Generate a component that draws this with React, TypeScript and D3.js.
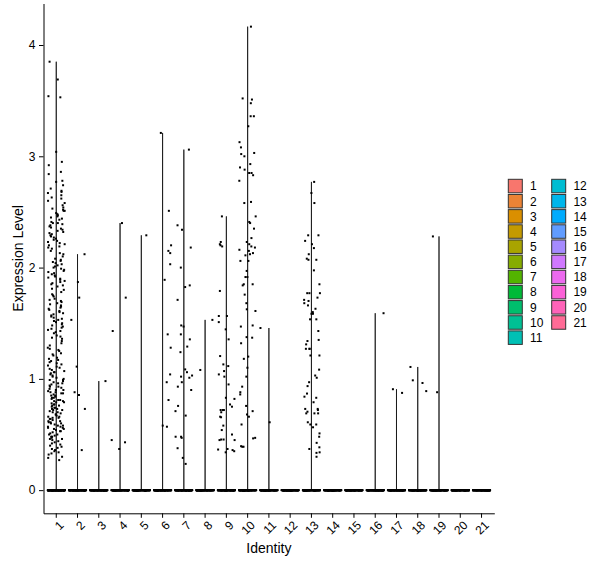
import React, { useEffect, useRef } from 'react'
import * as d3 from 'd3'

const clusters = [
  '1', '2', '3', '4', '5', '6', '7', '8', '9', '10', '11',
  '12', '13', '14', '15', '16', '17', '18', '19', '20', '21',
]
const yTicks = [0, 1, 2, 3, 4]

// cells with zero expression (they form the thick bar at 0)
const zeroCounts = [
  160, 140, 140, 140, 140, 140, 140, 140, 140, 140, 140,
  140, 140, 140, 140, 140, 140, 140, 140, 140, 140,
]

// non-zero expression values per identity
const cluster1 = [
  3.85, 3.69, 3.53, 3.54, 3.04, 2.95, 2.92, 2.86, 2.84, 2.77, 2.78, 2.74, 2.71, 2.69, 2.67,
  2.68, 2.65, 2.62, 2.6, 2.56, 2.54, 2.51, 2.51, 2.52, 2.48, 2.49, 2.47, 2.44, 2.45,
  2.4, 2.41, 2.39, 2.4, 2.37, 2.38, 2.36, 2.35, 2.32, 2.33, 2.29, 2.3, 2.28, 2.26, 2.25, 2.27,
  2.22, 2.21, 2.23, 2.18, 2.17, 2.19, 2.12, 2.13, 2.06, 2.07, 2.05, 2.04, 2.03,
  2.0, 1.99, 2.01, 1.95, 1.96, 1.94, 1.9, 1.91, 1.89, 1.88, 1.85, 1.86, 1.81, 1.8,
  1.76, 1.74, 1.71, 1.72, 1.7, 1.65, 1.66, 1.64, 1.62, 1.61, 1.63, 1.56, 1.57, 1.55,
  1.51, 1.52, 1.5, 1.46, 1.47, 1.45, 1.44, 1.41, 1.42, 1.36, 1.37, 1.3, 1.27, 1.28, 1.26,
  1.22, 1.23, 1.21, 1.16, 1.17, 1.12, 1.13, 1.11, 1.09, 1.08, 1.1, 1.06, 1.03, 1.04, 1.02,
  1.0, 0.99, 0.97, 0.98, 0.96, 0.92, 0.93, 0.91, 0.89, 0.9, 0.88, 0.85, 0.86, 0.84,
  0.82, 0.83, 0.81, 0.8, 0.77, 0.78, 0.76, 0.74, 0.75, 0.73, 0.71, 0.72, 0.7, 0.69,
  0.66, 0.67, 0.65, 0.64, 0.63, 0.62, 0.61, 0.59, 0.6, 0.58, 0.57, 0.55, 0.56, 0.54, 0.53,
  0.5, 0.51, 0.49, 0.47, 0.48, 0.46, 0.44, 0.41, 0.42, 0.39, 0.4, 0.38, 0.35, 0.36, 0.33,
  0.3, 0.29, 0.27,
  2.63, 2.58, 2.53, 2.46, 2.43, 2.34, 2.31, 2.24, 2.2, 2.15, 2.1, 2.08, 2.02, 1.98, 1.93,
  1.92, 1.87, 1.83, 1.78, 1.75, 1.68, 1.67, 1.6, 1.58, 1.54, 1.53, 1.49, 1.43, 1.39, 1.34,
  1.32, 1.25, 1.19, 1.15, 1.14, 1.07, 1.05, 1.01, 0.99, 0.95, 0.94, 0.93, 0.9, 0.87, 0.87,
  0.85, 0.83, 0.81, 0.79, 0.79, 0.77, 0.76, 0.74, 0.72, 0.7, 0.68, 0.68, 0.66, 0.64, 0.62,
  0.61, 0.6, 0.58, 0.56, 0.55, 0.53, 0.52, 0.5, 0.48, 0.45, 0.43, 0.37, 0.34, 0.32,
  1.97, 1.84, 1.69, 1.59, 1.48, 1.38, 1.18, 1.06, 0.96, 0.88, 0.8, 0.73, 0.65, 0.57, 0.46,
]
const cluster2 = [2.12, 1.87, 1.73, 1.53, 1.11, 0.88, 0.855, 0.73, 0.36]
const cluster3 = [0.98]
const cluster4 = [2.4, 1.73, 1.43, 0.45, 0.43, 0.37]
const cluster5 = [2.29]
const cluster6 = [3.21, 2.51, 2.2, 2.15, 2.13, 2.03, 1.89, 1.4, 1.28, 1.04, 0.97, 0.81, 0.58, 0.57]
const cluster7 = [
  3.06, 2.38, 2.34, 2.18, 2.0, 1.825, 1.84, 1.71, 1.47, 1.48, 1.4, 1.355, 1.29, 1.24, 1.085,
  1.06, 1.02, 1.03, 1.01, 0.97, 0.93, 0.9, 0.757, 0.71, 0.67, 0.48, 0.48, 0.47, 0.377, 0.29, 0.236,
]
const cluster8 = [1.53, 1.08]
const cluster9 = [
  2.46, 2.23, 2.21, 2.19, 2.2, 1.79, 1.565, 1.51, 1.565, 1.445, 1.355, 1.205, 1.13, 1.115, 1.07,
  1.04, 1.02, 0.95, 0.83, 0.82, 0.77, 0.75, 0.72, 0.72, 0.72, 0.7, 0.66, 0.655, 0.58, 0.54,
  0.5, 0.455, 0.45, 0.45, 0.455, 0.365, 0.36, 0.34, 0.35, 0.37,
]
const cluster10 = [
  4.165, 3.52, 3.51, 3.477, 3.36, 3.36, 3.27, 3.127, 3.08, 3.0, 3.02, 3.03, 2.93, 2.9, 2.88,
  2.83, 2.85, 2.85, 2.78, 2.59, 2.58, 2.46, 2.41, 2.4, 2.35, 2.265, 2.23, 2.21, 2.19, 2.18,
  2.16, 2.11, 2.13, 2.15, 2.12, 2.06, 2.06, 1.97, 1.915, 1.915, 1.85, 1.84, 1.85, 1.757, 1.68,
  1.625, 1.61, 1.48, 1.47, 1.37, 1.375, 1.32, 1.2, 1.18, 1.1, 1.02, 0.93, 0.88, 0.86, 0.757,
  0.71, 0.68, 0.66, 0.59, 0.465, 0.395, 0.47, 0.39, 0.39,
]
const cluster11 = [1.457, 0.61]
const cluster12: number[] = []
const cluster13 = [
  2.77, 2.67, 2.58, 2.29, 2.29, 2.24, 2.21, 2.175, 2.12, 2.08, 2.07, 2.07, 1.975, 1.85, 1.77,
  1.77, 1.77, 1.73, 1.71, 1.7, 1.68, 1.66, 1.585, 1.63, 1.6, 1.535, 1.535, 1.585, 1.43, 1.35,
  1.34, 1.27, 1.27, 1.31, 1.27, 1.21, 1.21, 1.083, 1.03, 1.01, 0.97, 0.935, 0.868, 0.84, 0.83,
  0.79, 0.73, 0.73, 0.72, 0.705, 0.69, 0.69, 0.69, 0.61, 0.59, 0.59, 0.565, 0.51, 0.48, 0.425,
  0.385, 0.37, 0.34, 0.335, 0.3,
]
const cluster14: number[] = []
const cluster15: number[] = []
const cluster16 = [1.59]
const cluster17 = [0.907, 0.874]
const cluster18 = [1.107, 0.987, 0.963, 0.89]
const cluster19 = [2.28, 0.88]
const cluster20: number[] = []
const cluster21: number[] = []

const clusterValues = [
  cluster1, cluster2, cluster3, cluster4, cluster5, cluster6, cluster7, cluster8, cluster9,
  cluster10, cluster11, cluster12, cluster13, cluster14, cluster15, cluster16, cluster17,
  cluster18, cluster19, cluster20, cluster21,
]

const width = 600
const height = 568
const panel = { left: 43.5, right: 494.3, top: 3.5, bottom: 513.3 }
const font = '"Liberation Sans", Arial, sans-serif'

// ggplot2 default hue palette: hcl(h, c = 100, l = 65) in polar CIE-LUV
function hueColour(h: number, c = 100, l = 65) {
  const hr = (h * Math.PI) / 180
  const u = c * Math.cos(hr)
  const v = c * Math.sin(hr)
  const Xn = 95.047, Yn = 100, Zn = 108.883
  const den = Xn + 15 * Yn + 3 * Zn
  const un = (4 * Xn) / den
  const vn = (9 * Yn) / den
  const Y = l > 8 ? Yn * Math.pow((l + 16) / 116, 3) : (Yn * l) / 903.3
  const up = u / (13 * l) + un
  const vp = v / (13 * l) + vn
  const X = (Y * 9 * up) / (4 * vp)
  const Z = (Y * (12 - 3 * up - 20 * vp)) / (4 * vp)
  const x = X / 100, y = Y / 100, z = Z / 100
  const lin = [
    3.2404542 * x - 1.5371385 * y - 0.4985314 * z,
    -0.969266 * x + 1.8760108 * y + 0.041556 * z,
    0.0556434 * x - 0.2040259 * y + 1.0572252 * z,
  ]
  const [r, g, b] = lin.map((t) => {
    const s = t <= 0.0031308 ? 12.92 * t : 1.055 * Math.pow(t, 1 / 2.4) - 0.055
    return Math.round(255 * Math.max(0, Math.min(1, s)))
  })
  return d3.rgb(r, g, b).formatHex()
}

const colours = clusters.map((_, i) => hueColour(15 + (360 / clusters.length) * i))

const App: React.FC = () => {
  const svgRef = useRef<SVGSVGElement | null>(null)

  useEffect(() => {
    if (!svgRef.current) return
    const svg = d3.select(svgRef.current)
    svg.selectAll('*').remove()

    const x = d3
      .scaleBand()
      .domain(clusters)
      .range([panel.left, panel.right])
      .paddingInner(0)
      .paddingOuter(0.1)
    const bw = x.bandwidth()
    const cx = (d: string) => x(d)! + bw / 2

    const y = d3.scaleLinear().domain([-0.208, 4.373]).range([panel.bottom, panel.top])

    // violins: the zero spike makes them a flat bar at 0 with a hairline up to the max
    const violins = svg.append('g')
    clusters.forEach((c, i) => {
      const vals = clusterValues[i]
      const top = d3.max(vals) ?? 0
      const x0 = cx(c)
      const half = bw * 0.45
      const p = d3.path()
      p.moveTo(x0, y(top))
      p.lineTo(x0, y(0))
      p.lineTo(x0 + half, y(0))
      p.lineTo(x0 - half, y(0))
      p.lineTo(x0, y(0))
      p.closePath()
      violins
        .append('path')
        .attr('d', p.toString())
        .attr('fill', colours[i])
        .attr('stroke', '#111')
        .attr('stroke-width', 0.8)
    })

    // jittered points (width 0.4, height 0)
    const jitter = d3.randomUniform.source(d3.randomLcg(0.4242))(-0.4, 0.4)
    const pts: { c: string; v: number }[] = []
    clusters.forEach((c, i) => {
      d3.range(zeroCounts[i]).forEach(() => pts.push({ c, v: 0 }))
      clusterValues[i].forEach((v) => pts.push({ c, v }))
    })
    svg
      .append('g')
      .selectAll('rect')
      .data(pts)
      .join('rect')
      .attr('x', (d) => cx(d.c) + jitter() * bw - 1)
      .attr('y', (d) => y(d.v) - 1)
      .attr('width', 2)
      .attr('height', 2)
      .attr('fill', 'black')

    // axes
    const yAxis = svg
      .append('g')
      .attr('transform', `translate(${panel.left},0)`)
      .call(
        d3
          .axisLeft(y)
          .tickValues(yTicks)
          .tickFormat(d3.format('d'))
          .tickSize(4.5)
          .tickSizeOuter(0)
          .tickPadding(3.5)
      )
    yAxis.selectAll('path, line').attr('stroke', 'black').attr('stroke-width', 1)
    yAxis
      .selectAll('text')
      .attr('font-family', font)
      .attr('font-size', 12)
      .attr('fill', 'black')

    const xAxis = svg
      .append('g')
      .attr('transform', `translate(0,${panel.bottom})`)
      .call(d3.axisBottom(x).tickSize(4.5).tickSizeOuter(0))
    xAxis.selectAll('path, line').attr('stroke', 'black').attr('stroke-width', 1)
    xAxis
      .selectAll('text')
      .attr('y', null)
      .attr('dy', '0.72em')
      .attr('text-anchor', 'end')
      .attr('transform', 'translate(2,6.5) rotate(-45)')
      .attr('font-family', font)
      .attr('font-size', 12)
      .attr('fill', 'black')

    // axis titles
    svg
      .append('text')
      .attr('x', (panel.left + panel.right) / 2)
      .attr('y', 553)
      .attr('text-anchor', 'middle')
      .attr('font-family', font)
      .attr('font-size', 14)
      .text('Identity')
    svg
      .append('text')
      .attr('transform', `translate(23.3,${(panel.top + panel.bottom) / 2}) rotate(-90)`)
      .attr('text-anchor', 'middle')
      .attr('font-family', font)
      .attr('font-size', 14)
      .text('Expression Level')

    // legend, two columns of keys
    const perCol = 11
    const legend = svg.append('g')
    clusters.forEach((c, i) => {
      const col = Math.floor(i / perCol)
      const row = i % perCol
      const lx = 508.3 + col * 43.4
      const ly = 179.3 + row * 15.16
      legend
        .append('rect')
        .attr('x', lx)
        .attr('y', ly)
        .attr('width', 14)
        .attr('height', 13.5)
        .attr('fill', colours[i])
        .attr('stroke', '#333')
        .attr('stroke-width', 1)
      legend
        .append('text')
        .attr('x', lx + 21.7)
        .attr('y', ly + 6.75)
        .attr('dy', '0.36em')
        .attr('font-family', font)
        .attr('font-size', 12)
        .text(c)
    })
  }, [])

  return (
    <svg
      ref={svgRef}
      width={width}
      height={height}
      style={{ position: 'absolute', left: 0, top: 0, background: 'white' }}
    ></svg>
  )
}

export default App
